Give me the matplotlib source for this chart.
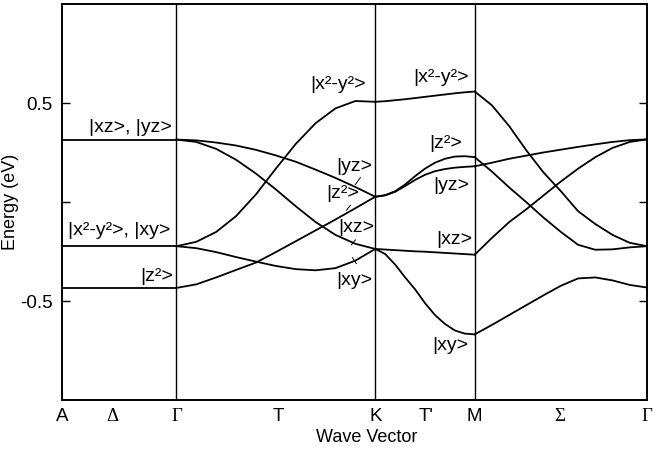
import numpy as np
import matplotlib.pyplot as plt

# positions of the symmetry points along the path
k_A = 0.0
k_G1 = 1.15
k_K = 3.15
k_M = 4.15
k_G2 = 5.882

# fraction along each segment where the energies were read
frac = np.linspace(0, 1, 11)

# A -> Gamma (flat levels)
AG_levels = [0.317, -0.222, -0.433]

# Gamma -> K
GK_bands = [
    [0.317, 0.313, 0.302, 0.287, 0.265, 0.237, 0.205, 0.165, 0.123, 0.077, 0.028],
    [0.317, 0.305, 0.270, 0.215, 0.145, 0.065, -0.020, -0.100, -0.165, -0.210, -0.236],
    [-0.222, -0.200, -0.150, -0.070, 0.040, 0.170, 0.295, 0.400, 0.475, 0.512, 0.508],
    [-0.222, -0.232, -0.252, -0.277, -0.300, -0.322, -0.338, -0.344, -0.333, -0.295, -0.236],
    [-0.433, -0.415, -0.380, -0.342, -0.305, -0.252, -0.197, -0.142, -0.087, -0.030, 0.028],
]

# K -> M
KM_bands = [
    [0.508, 0.511, 0.516, 0.521, 0.527, 0.533, 0.539, 0.545, 0.551, 0.556, 0.560],
    [0.028, 0.036, 0.056, 0.090, 0.132, 0.170, 0.200, 0.220, 0.231, 0.233, 0.228],
    [0.028, 0.035, 0.053, 0.082, 0.113, 0.139, 0.157, 0.168, 0.175, 0.179, 0.182],
    [-0.236, -0.239, -0.242, -0.245, -0.248, -0.250, -0.253, -0.256, -0.259, -0.262, -0.265],
    [-0.236, -0.262, -0.315, -0.380, -0.440, -0.510, -0.570, -0.615, -0.648, -0.664, -0.668],
]

# M -> Gamma
MG_bands = [
    [0.560, 0.490, 0.385, 0.262, 0.150, 0.056, -0.045, -0.110, -0.165, -0.205, -0.222],
    [0.228, 0.155, 0.075, 0.000, -0.078, -0.150, -0.215, -0.240, -0.238, -0.228, -0.222],
    [-0.265, -0.180, -0.100, -0.035, 0.035, 0.105, 0.170, 0.228, 0.275, 0.305, 0.318],
    [0.182, 0.200, 0.220, 0.236, 0.252, 0.266, 0.280, 0.293, 0.305, 0.314, 0.318],
    [-0.668, -0.620, -0.570, -0.520, -0.470, -0.422, -0.385, -0.380, -0.395, -0.418, -0.431],
]

tick_pos = [0.0, 0.51, 1.15, 2.17, 3.15, 3.66, 4.15, 5.0, 5.882]
tick_lab = ["A", "Δ", "Γ", "T", "K", "T'", "M", "Σ", "Γ"]
greek = ["Δ", "Γ", "Σ"]

band_labels = [
    ("|xz>, |yz>", 0.683, 0.38),
    ("|x²-y²>, |xy>", 0.572, -0.145),
    ("|z²>", 0.954, -0.377),
    ("|x²-y²>", 2.771, 0.597),
    ("|yz>", 2.942, 0.183),
    ("|z²>", 2.821, 0.042),
    ("|xz>", 2.962, -0.13),
    ("|xy>", 2.942, -0.397),
    ("|x²-y²>", 3.815, 0.633),
    ("|z²>", 3.855, 0.299),
    ("|yz>", 3.916, 0.087),
    ("|xz>", 3.946, -0.19),
    ("|xy>", 3.906, -0.726),
]

plt.rcParams['font.family'] = ['Liberation Sans', 'DejaVu Sans']

fig = plt.figure(figsize=(6.67, 4.49), dpi=100)
ax = fig.add_axes([0.093, 0.109, 0.877, 0.881])

lw = 1.3
for e in AG_levels:
    ax.plot([k_A, k_G1], [e, e], color='black', lw=lw)

for start, end, bands in [(k_G1, k_K, GK_bands), (k_K, k_M, KM_bands), (k_M, k_G2, MG_bands)]:
    k = start + frac * (end - start)
    for b in bands:
        ax.plot(k, b, color='black', lw=lw, solid_joinstyle='round')

for kv in [k_G1, k_K, k_M]:
    ax.axvline(kv, color='black', lw=1.0)

# small leader marks next to the labels at K
for x0, y0, x1, y1 in [(3.0, 0.125, 2.95, 0.09), (2.9, -0.015, 2.86, -0.04),
                       (2.95, -0.19, 2.91, -0.215), (2.96, -0.31, 2.92, -0.28)]:
    ax.plot([x0, x1], [y0, y1], color='black', lw=0.7)

for txt, x, y in band_labels:
    ax.text(x, y, txt, ha='center', va='center', fontsize=14)

ax.set_xlim(k_A, k_G2)
ax.set_ylim(-1, 1)
ax.set_yticks([-0.5, 0, 0.5])
ax.set_yticklabels(['-0.5', '', '0.5'], fontsize=13.5)
ax.tick_params(axis='y', direction='in', length=6, width=1.0, right=True, pad=7)
ax.set_xticks(tick_pos)
ax.set_xticklabels(tick_lab, fontsize=13.5)
ax.tick_params(axis='x', length=0, pad=6)
for lab in ax.get_xticklabels():
    if lab.get_text() in greek:
        lab.set_fontfamily('Liberation Serif')

for sp in ax.spines.values():
    sp.set_linewidth(1.4)

ax.set_xlabel("Wave Vector", fontsize=13)
ax.xaxis.set_label_coords(0.52, -0.074)
ax.set_ylabel("Energy (eV)", fontsize=13)
ax.yaxis.set_label_coords(-0.074, 0.5)

fig.savefig("out.png", dpi=100)
